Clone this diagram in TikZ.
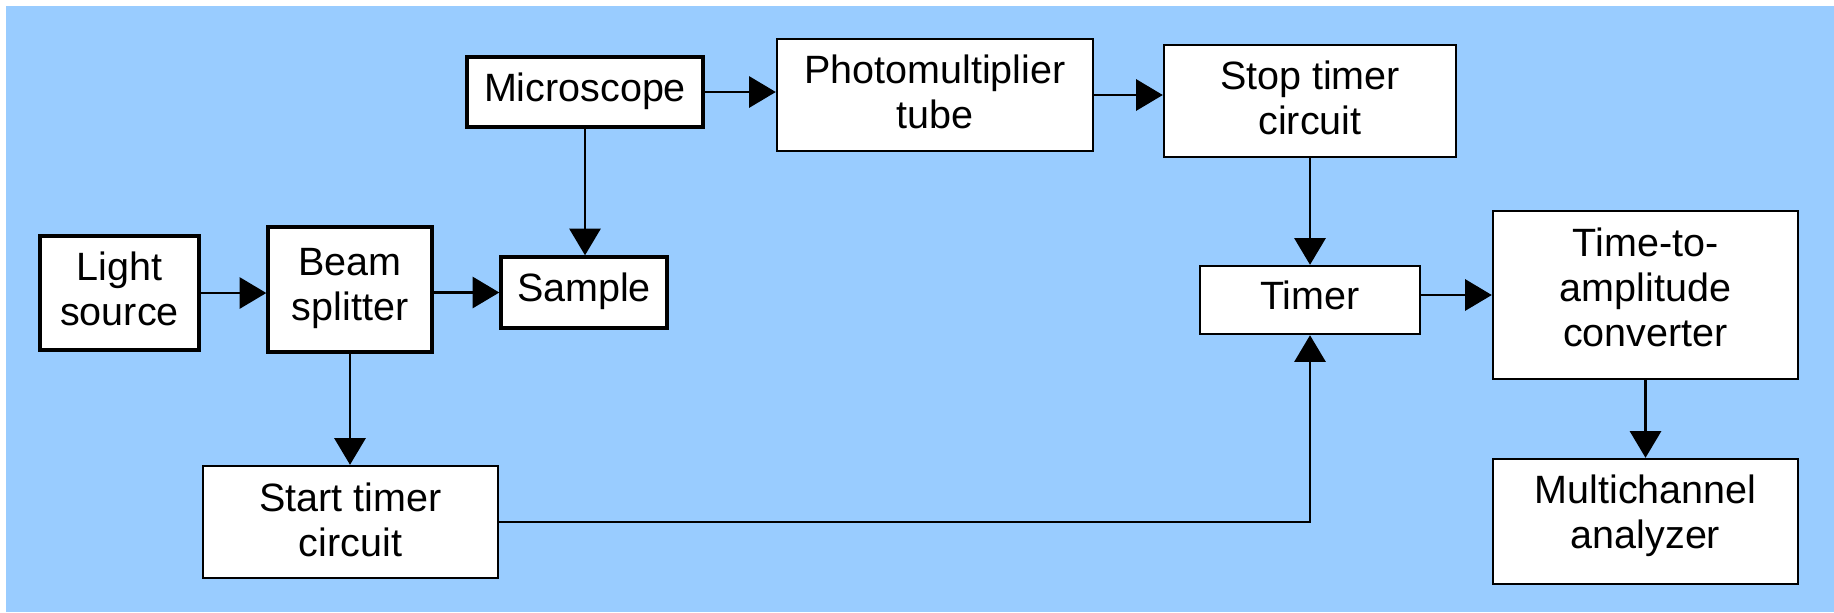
\documentclass[tikz,border=0pt]{standalone}
\usepackage{fontspec}
\setmainfont{Liberation Sans}
\usetikzlibrary{arrows.meta}
\definecolor{bg}{HTML}{99CCFF}
\begin{document}
\begin{tikzpicture}[x=0.5pt,y=-0.5pt,
 boxthick/.style={draw=black, fill=white, line width=1.7pt, inner sep=0pt},
 boxthin/.style={draw=black, fill=white, line width=1.2pt, inner sep=0pt},
 lbl/.style={anchor=north, inner sep=0pt, align=center, font=\fontsize{19.75pt}{22.6pt}\selectfont},
 arr/.style={line width=1.3pt, -{Triangle[length=13.3pt,width=15.5pt]}}]
\useasboundingbox (0,0) rectangle (1834,612);
\fill[bg] (6,6) rectangle (1834,612);

\node[boxthick, minimum width=79.5pt, minimum height=57pt] (ls) at (119.5,293) {};
\node[boxthick, minimum width=82pt, minimum height=62.5pt] (bs) at (350,289.5) {};
\node[boxthick, minimum width=83pt, minimum height=35.5pt] (sample) at (584,292.5) {};
\node[boxthick, minimum width=118pt, minimum height=35pt] (mic) at (585,92) {};
\node[boxthin, minimum width=158pt, minimum height=56pt] (pmt) at (935,95) {};
\node[boxthin, minimum width=146pt, minimum height=56pt] (stop) at (1310,101) {};
\node[boxthin, minimum width=110pt, minimum height=34pt] (timer) at (1310,300) {};
\node[boxthin, minimum width=152.5pt, minimum height=84pt] (tac) at (1645.5,295) {};
\node[boxthin, minimum width=152.5pt, minimum height=62.5pt] (mca) at (1645.5,521.5) {};
\node[boxthin, minimum width=147.5pt, minimum height=56pt] (start) at (350.5,522) {};

\node[lbl] (lst) at (119.5,251) {Light\\source};
\node[lbl] (bst) at (350,248) {Beam\\splitter};
\node[lbl] (samplet) at (584,272) {Sample};
\node[lbl] (mict) at (585,72) {Microscope};
\node[lbl] (pmtt) at (935,54) {Photomultiplier\\tube};
\node[lbl] (stopt) at (1310,60) {Stop timer\\circuit};
\node[lbl] (timert) at (1310,280) {Timer};
\node[lbl] (tact) at (1645.5,227) {Time-to-\\amplitude\\converter};
\node[lbl] (mcat) at (1645.5,474) {Multichannel\\analyzer};
\node[lbl] (startt) at (350.5,482) {Start timer\\circuit};

\draw[arr] (ls.east) -- (ls.east -| bs.west);
\draw[arr] (bs.east |- sample.west) -- (sample.west);
\draw[arr] (mic.east) -- (mic.east -| pmt.west);
\draw[arr] (pmt.east) -- (pmt.east -| stop.west);
\draw[arr] (mic.south) -- (mic.south |- sample.north);
\draw[arr] (bs.south) -- (bs.south |- start.north);
\draw[arr] (stop.south) -- (timer.north);
\draw[arr] (timer.east |- tac.west) -- (tac.west);
\draw[arr] (tac.south) -- (tac.south |- mca.north);
\draw[arr] (start.east) -| (timer.south);
\end{tikzpicture}
\end{document}
